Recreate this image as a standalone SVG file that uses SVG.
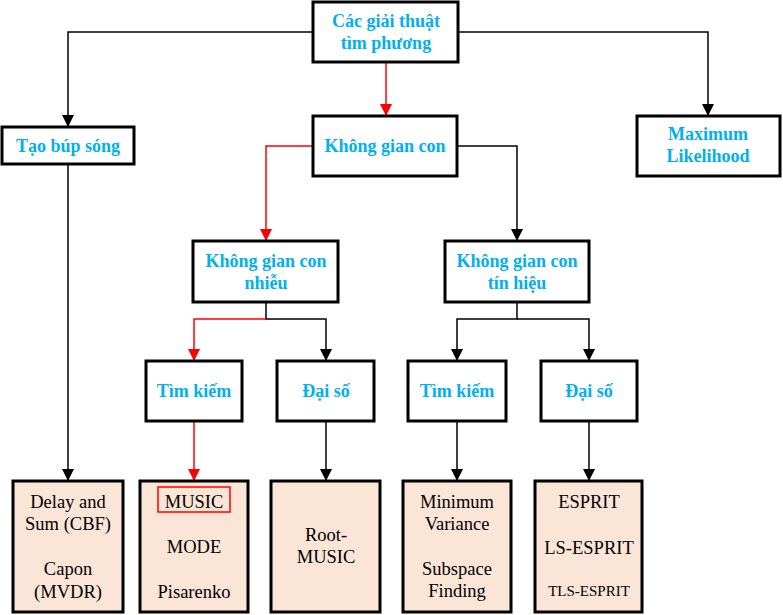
<svg xmlns="http://www.w3.org/2000/svg" width="783" height="615" viewBox="0 0 783 615" font-family="'Liberation Serif', 'DejaVu Serif', serif">
<defs>
<marker id="ab" markerUnits="userSpaceOnUse" markerWidth="12" markerHeight="12" viewBox="0 0 12 12" refX="12" refY="6" orient="auto"><path d="M0,0 L12,6 L0,12 Z" fill="#000"/></marker>
<marker id="ar" markerUnits="userSpaceOnUse" markerWidth="12" markerHeight="12" viewBox="0 0 12 12" refX="12" refY="6" orient="auto"><path d="M0,0 L12,6 L0,12 Z" fill="#FF0000"/></marker>
<style>
.box{fill:#fff;stroke:#000;stroke-width:3}
.leaf{fill:#FBE5D6;stroke:#000;stroke-width:3}
.h{font-family:'Liberation Serif',serif;font-weight:bold;font-size:18px;fill:#00B0F0;text-anchor:middle}
.t{font-family:'Liberation Serif',serif;font-size:18.5px;fill:#000;text-anchor:middle}
.k{fill:none;stroke:#000;stroke-width:1.5}
.r{fill:none;stroke:#FF0000;stroke-width:1.5}
</style>
</defs>
<g id="connectors">
<path class="k" d="M313,32 H68 V127" marker-end="url(#ab)"/>
<path class="k" d="M458,32 H708 V116" marker-end="url(#ab)"/>
<path class="r" d="M386,62 V116" marker-end="url(#ar)"/>
<path class="r" d="M313,146 H266 V241" marker-end="url(#ar)"/>
<path class="k" d="M457,146 H517 V241" marker-end="url(#ab)"/>
<path class="k" d="M266,302 V319 H326 V361" marker-end="url(#ab)"/>
<path class="r" d="M266,319 H194 V361" marker-end="url(#ar)"/>
<path class="k" d="M517,302 V319 H457 V361" marker-end="url(#ab)"/>
<path class="k" d="M517,319 H589 V361" marker-end="url(#ab)"/>
<path class="k" d="M68,164 V481" marker-end="url(#ab)"/>
<path class="r" d="M194,421 V481" marker-end="url(#ar)"/>
<path class="k" d="M326,421 V481" marker-end="url(#ab)"/>
<path class="k" d="M457,421 V481" marker-end="url(#ab)"/>
<path class="k" d="M589,421 V481" marker-end="url(#ab)"/>
</g>
<g id="root"><rect class="box" x="313" y="2" width="145" height="60"/><text class="h" x="386" y="27">Các giải thuật</text><text class="h" x="386" y="49">tìm phương</text></g>
<g id="beam"><rect class="box" x="2" y="127" width="132" height="37"/><text class="h" x="68" y="152">Tạo búp sóng</text></g>
<g id="subspace"><rect class="box" x="313" y="116" width="144" height="60"/><text class="h" x="385" y="152">Không gian con</text></g>
<g id="ml"><rect class="box" x="637" y="116" width="143" height="60"/><text class="h" x="708" y="140">Maximum</text><text class="h" x="708" y="162">Likelihood</text></g>
<g id="noise"><rect class="box" x="193" y="241" width="145" height="61"/><text class="h" x="266" y="267">Không gian con</text><text class="h" x="266" y="289">nhiễu</text></g>
<g id="signal"><rect class="box" x="445" y="241" width="144" height="61"/><text class="h" x="517" y="267">Không gian con</text><text class="h" x="517" y="289">tín hiệu</text></g>
<g id="noise-search"><rect class="box" x="146" y="361" width="96" height="60"/><text class="h" x="194" y="397">Tìm kiếm</text></g>
<g id="noise-alg"><rect class="box" x="277" y="361" width="97" height="60"/><text class="h" x="326" y="397">Đại số</text></g>
<g id="sig-search"><rect class="box" x="408" y="361" width="98" height="60"/><text class="h" x="457" y="397">Tìm kiếm</text></g>
<g id="sig-alg"><rect class="box" x="541" y="361" width="96" height="60"/><text class="h" x="589" y="397">Đại số</text></g>
<g id="leaf-beam"><rect class="leaf" x="13" y="481" width="110" height="131"/><text class="t" x="68" y="508">Delay and</text><text class="t" x="68" y="530">Sum (CBF)</text><text class="t" x="68" y="575">Capon</text><text class="t" x="68" y="598">(MVDR)</text></g>
<g id="leaf-music"><rect class="leaf" x="140" y="481" width="108" height="131"/><rect x="158" y="487" width="72" height="25" fill="none" stroke="#FF0000" stroke-width="1.5"/><text class="t" x="194" y="508">MUSIC</text><text class="t" x="194" y="553">MODE</text><text class="t" x="194" y="598">Pisarenko</text></g>
<g id="leaf-root"><rect class="leaf" x="271" y="481" width="109" height="131"/><text class="t" x="326" y="541">Root-</text><text class="t" x="326" y="563">MUSIC</text></g>
<g id="leaf-mv"><rect class="leaf" x="403" y="481" width="108" height="131"/><text class="t" x="457" y="508">Minimum</text><text class="t" x="457" y="530">Variance</text><text class="t" x="457" y="575">Subspace</text><text class="t" x="457" y="597">Finding</text></g>
<g id="leaf-esprit"><rect class="leaf" x="535" y="481" width="107" height="131"/><text class="t" x="589" y="508">ESPRIT</text><text class="t" x="589" y="554">LS-ESPRIT</text><text class="t" x="589" y="596" style="font-size:15px">TLS-ESPRIT</text></g>
</svg>
